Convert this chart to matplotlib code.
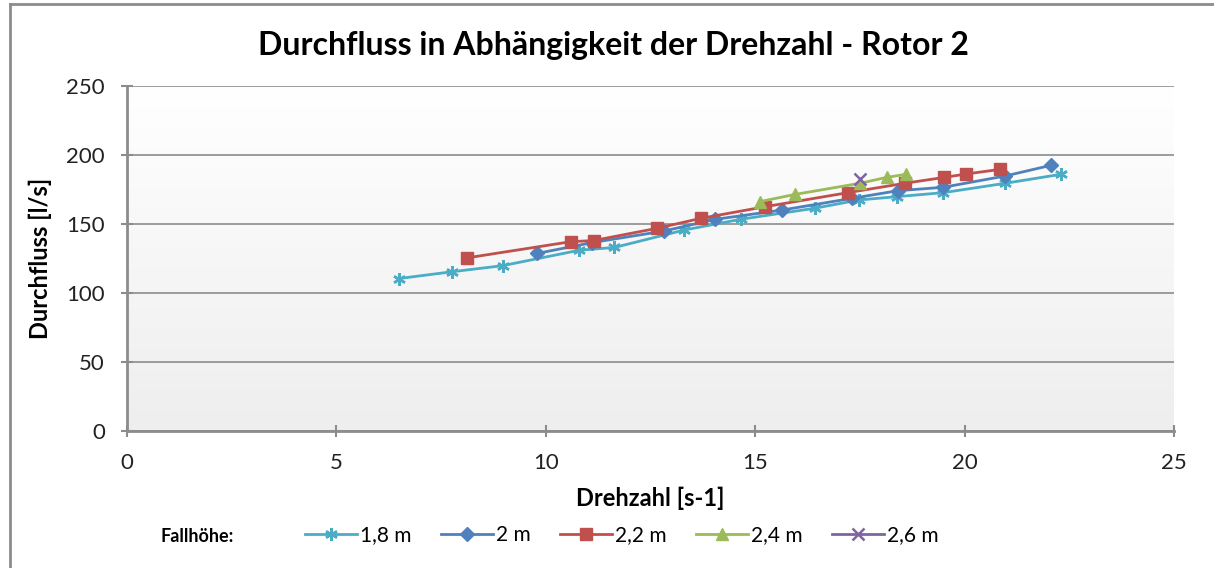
import numpy as np
import matplotlib.pyplot as plt
from matplotlib.lines import Line2D
from matplotlib.colors import LinearSegmentedColormap

plt.rcParams['font.family'] = ['Lato', 'DejaVu Sans']

# Daten (Drehzahl [s-1], Durchfluss [l/s])
n_18 = [6.5, 7.76, 8.97, 10.8, 11.64, 13.3, 14.65, 16.42, 17.47, 18.38, 19.49, 20.97, 22.3]
q_18 = [110.5, 115.4, 119.8, 131.0, 133.0, 145.6, 153.4, 161.4, 167.4, 169.8, 172.7, 179.5, 186.0]

n_20 = [9.8, 11.1, 12.82, 14.05, 15.64, 17.31, 18.4, 19.49, 20.97, 22.06]
q_20 = [128.7, 136.5, 144.9, 153.4, 160.1, 168.6, 174.1, 176.6, 184.8, 192.5]

n_22 = [8.13, 10.6, 11.14, 12.66, 13.7, 15.23, 17.21, 18.57, 19.52, 20.03, 20.85]
q_22 = [125.5, 137.2, 138.0, 146.9, 154.1, 162.5, 172.7, 179.5, 183.8, 186.2, 189.6]

n_24 = [15.11, 15.96, 17.5, 18.14, 18.6]
q_24 = [166.2, 171.5, 179.5, 183.8, 186.0]

n_26 = [17.5]
q_26 = [182.5]

labels = ['1,8 m', '2 m', '2,2 m', '2,4 m', '2,6 m']
colors = ['#4BACC6', '#4F81BD', '#C0504D', '#9BBB59', '#8064A2']
markers = [(6, 2, 0), 'D', 's', '^', 'x']
sizes = [9, 7, 8, 8, 8]

fig = plt.figure(figsize=(12.14, 5.68), dpi=100)
ax = fig.add_axes([127 / 1214, 1 - 431 / 568, (1174 - 127) / 1214, (431 - 86) / 568])

# Hintergrund mit Verlauf
grad = np.linspace(0, 1, 256).reshape(-1, 1)
ax.imshow(grad, extent=[0, 25, 0, 250], aspect='auto', origin='upper',
          cmap=LinearSegmentedColormap.from_list('g', ['#ffffff', '#eeeeee']),
          zorder=0)

series = [(n_18, q_18), (n_20, q_20), (n_22, q_22), (n_24, q_24), (n_26, q_26)]
for (x, y), lab, c, m, s in zip(series, labels, colors, markers, sizes):
    mew = 1.8 if m in ((6, 2, 0), 'x') else 1
    ax.plot(x, y, color=c, marker=m, markersize=s, linewidth=2, label=lab,
            markeredgewidth=mew, zorder=3)

ax.set_xlim(0, 25)
ax.set_ylim(0, 250)
ax.set_xticks(np.arange(0, 26, 5))
ax.set_yticks(np.arange(0, 251, 50))
ax.grid(axis='y', color='#8c8c8c', linewidth=1.2)
ax.set_axisbelow(True)
for side in ['top', 'right']:
    ax.spines[side].set_visible(False)
for side in ['left', 'bottom']:
    ax.spines[side].set_color('#8c8c8c')
    ax.spines[side].set_linewidth(2)
ax.tick_params(direction='inout', length=8, width=1.5, color='#8c8c8c',
               labelsize=16, labelcolor='#222222')
ax.tick_params(axis='x', pad=12)
ax.tick_params(axis='y', pad=12)

fig.text(613 / 1214, 1 - 45 / 568, 'Durchfluss in Abhängigkeit der Drehzahl - Rotor 2',
         fontsize=23, fontweight='bold', ha='center', va='center')
ax.set_xlabel('Drehzahl [s-1]', fontsize=17, fontweight='bold', labelpad=10)
ax.set_ylabel('Durchfluss [l/s]', fontsize=17, fontweight='bold', labelpad=10)

fig.text(160 / 1214, 1 - 536 / 568, 'Fallhöhe:', fontsize=13, fontweight='bold',
         va='center', ha='left')
leg = fig.legend(loc='center left', bbox_to_anchor=(286 / 1214, 1 - 535 / 568),
                 ncol=5, frameon=False, fontsize=15, handlelength=2.5,
                 columnspacing=1.4, handletextpad=0.15)

# Rahmen
fig.add_artist(Line2D([10 / 1214, 10 / 1214], [0, 1 - 4 / 568], color='#8c8c8c',
                      linewidth=2, transform=fig.transFigure))
fig.add_artist(Line2D([10 / 1214, 1], [1 - 4 / 568, 1 - 4 / 568], color='#8c8c8c',
                      linewidth=2, transform=fig.transFigure))

fig.savefig('out.png', dpi=100)
